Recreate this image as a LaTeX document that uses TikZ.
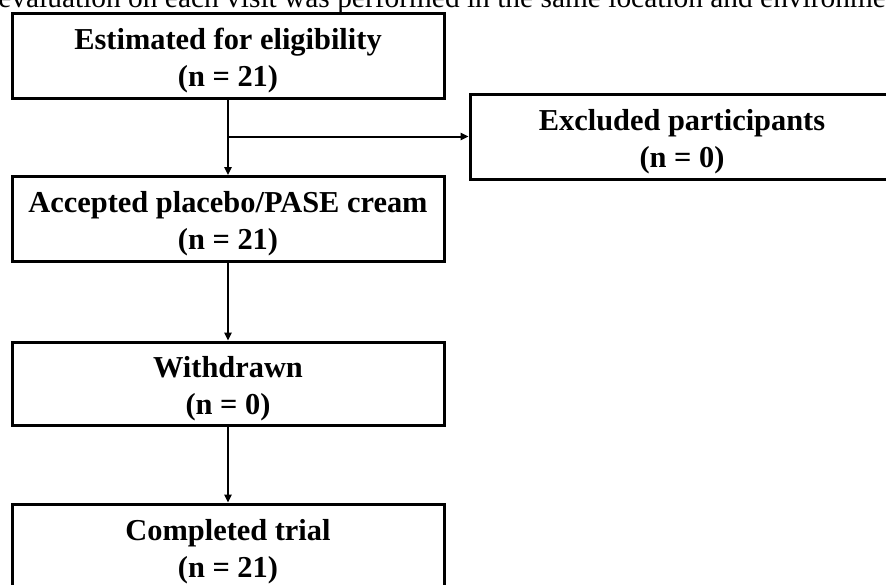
\documentclass[tikz,border=0pt]{standalone}
\usepackage{fontspec}
\setmainfont{Liberation Serif}
\usetikzlibrary{arrows.meta, positioning}

\begin{document}
\begin{tikzpicture}
	[%
	x=0.5pt, y=-0.5pt,%
	stage/.style ={rectangle,	draw=black,	line width=1.5pt,	align=center,	inner sep=0pt,	minimum width=216pt,	minimum height=42.5pt,	font=\fontsize{15.2}{18.5}\selectfont\bfseries,	text height=34pt},%
	flow/.style  ={draw=black,	line width=1pt,	-{Triangle[length=4pt,width=3.6pt]}},%
	]

	% picture frame
	\clip (0,0) rectangle (886,584);

	% caption line cut at the top
	\node (caption) at (-2,7) [anchor=base west, inner sep=0pt, font=\fontsize{14.7}{17}\selectfont] {evaluation on each visit was performed in the same location and environment};

	% nodes
	\node (estimated)	at (228,55.5)	[stage] {Estimated for eligibility\\(n = 21)};
	\node (excluded)	at (682,136.5)	[stage, minimum width=212pt] {Excluded participants\\(n = 0)};
	\node (accepted)	at (228,219)	[stage] {Accepted placebo/PASE cream\\(n = 21)};
	\node (withdrawn)	at (228,383.5)	[stage, minimum height=41.5pt] {Withdrawn\\(n = 0)};
	\node (completed)	at (228,546.5)	[stage] {Completed trial\\(n = 21)};

	\coordinate (split) at (estimated.south |- excluded.west);

	% connections
	\foreach \a/\b in {estimated/accepted, accepted/withdrawn, withdrawn/completed}
		\draw [flow] (\a) -- (\b);
	\draw [flow] (split) -- (excluded);

\end{tikzpicture}
\end{document}
